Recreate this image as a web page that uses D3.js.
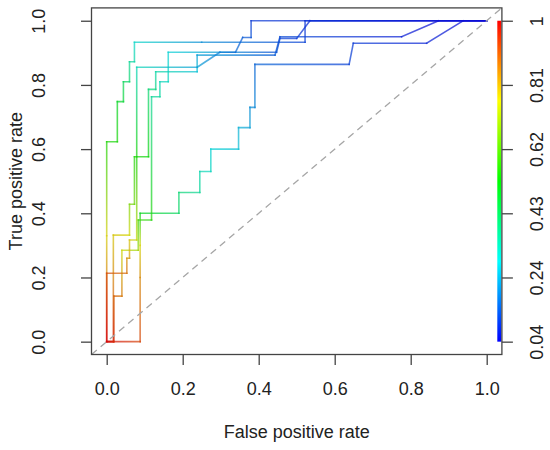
<!DOCTYPE html>
<html>
<head>
<meta charset="utf-8">
<script src="https://cdn.jsdelivr.net/npm/d3@7"></script>
<style>
  body { margin: 0; background: #fff; }
  text { font-family: "Liberation Sans", Arial, sans-serif; fill: #222; }
</style>
</head>
<body>
<div id="chart"></div>
<script>
// ROC curves per fold: false positive rate, true positive rate, cutoff at each vertex
const fold1Fpr = [0, 0, 0, 0.028, 0.028, 0.044, 0.044, 0.06, 0.06, 0.073, 0.073, 0.25, 0.522, 0.522, 1];
const fold1Tpr = [0, 0.33, 0.623, 0.623, 0.748, 0.748, 0.81, 0.81, 0.872, 0.872, 0.933, 0.933, 0.933, 1, 1];
const fold1Cut = [1, 0.77, 0.55, 0.54, 0.49, 0.47, 0.43, 0.41, 0.36, 0.34, 0.3, 0.2, 0.11, 0.09, 0.045];

const fold2Fpr = [0, 0.088, 0.088, 0.088, 0.088, 0.19, 0.19, 0.245, 0.245, 0.274, 0.274, 0.347, 0.347, 0.377, 0.377, 0.39, 0.39, 0.638, 0.649, 0.842, 0.938, 1];
const fold2Tpr = [0, 0, 0.2, 0.3, 0.4, 0.4, 0.465, 0.465, 0.53, 0.53, 0.6, 0.6, 0.667, 0.667, 0.73, 0.73, 0.864, 0.864, 0.93, 0.93, 1, 1];
const fold2Cut = [1, 0.93, 0.85, 0.76, 0.5, 0.42, 0.4, 0.36, 0.33, 0.31, 0.28, 0.26, 0.24, 0.22, 0.2, 0.19, 0.15, 0.11, 0.1, 0.075, 0.05, 0.045];

const fold3Fpr = [0, 0.019, 0.019, 0.04, 0.04, 0.083, 0.083, 0.118, 0.118, 0.14, 0.14, 0.162, 0.162, 0.447, 0.456, 0.5, 0.535, 1];
const fold3Tpr = [0, 0, 0.142, 0.142, 0.285, 0.285, 0.379, 0.379, 0.763, 0.763, 0.81, 0.81, 0.902, 0.902, 0.945, 0.945, 1, 1];
const fold3Cut = [1, 0.95, 0.9, 0.87, 0.75, 0.7, 0.58, 0.55, 0.36, 0.35, 0.32, 0.31, 0.28, 0.13, 0.11, 0.1, 0.08, 0.045];

const fold4Fpr = [0, 0.0175, 0.0175, 0.06, 0.06, 0.073, 0.073, 0.11, 0.11, 0.129, 0.129, 0.238, 0.238, 0.443, 0.456, 0.776, 0.873, 1];
const fold4Tpr = [0, 0, 0.332, 0.332, 0.428, 0.428, 0.576, 0.576, 0.786, 0.786, 0.841, 0.841, 0.893, 0.893, 0.95, 0.95, 1, 1];
const fold4Cut = [1, 0.97, 0.78, 0.76, 0.66, 0.64, 0.55, 0.52, 0.4, 0.38, 0.34, 0.26, 0.22, 0.14, 0.12, 0.07, 0.05, 0.045];

const fold5Fpr = [0, 0, 0.053, 0.053, 0.06, 0.06, 0.079, 0.079, 0.079, 0.238, 0.298, 0.339, 0.358, 0.38, 0.38, 1];
const fold5Tpr = [0, 0.213, 0.213, 0.26, 0.26, 0.317, 0.317, 0.576, 0.855, 0.855, 0.902, 0.902, 0.948, 0.948, 1, 1];
const fold5Cut = [1, 0.92, 0.88, 0.84, 0.83, 0.78, 0.74, 0.54, 0.32, 0.22, 0.18, 0.16, 0.14, 0.13, 0.1, 0.045];

const axisTicks = [0, 0.2, 0.4, 0.6, 0.8, 1];
const cutTicks = [0.045, 0.236, 0.427, 0.618, 0.809, 1];
const cutLabels = ["0.04", "0.24", "0.43", "0.62", "0.81", "1"];

const folds = [
  { fpr: fold1Fpr, tpr: fold1Tpr, cut: fold1Cut },
  { fpr: fold2Fpr, tpr: fold2Tpr, cut: fold2Cut },
  { fpr: fold3Fpr, tpr: fold3Tpr, cut: fold3Cut },
  { fpr: fold4Fpr, tpr: fold4Tpr, cut: fold4Cut },
  { fpr: fold5Fpr, tpr: fold5Tpr, cut: fold5Cut }
];

const width = 550;
const height = 450;
const pLeft = 91.5, pRight = 501.9, pTop = 7.9, pBottom = 354.5;

const svg = d3.select("#chart")
  .append("svg")
  .attr("width", width)
  .attr("height", height);

const x = d3.scaleLinear().domain([-0.04, 1.04]).range([pLeft, pRight]);
const y = d3.scaleLinear().domain([-0.04, 1.04]).range([pBottom, pTop]);

const cutMin = d3.min(cutTicks), cutMax = d3.max(cutTicks);
const hue = d3.scaleLinear().domain([cutMin, cutMax]).range([240, 0]);
const color = c => d3.hsl(hue(c), 1, 0.5).toString();
const lineColor = c => d3.hsl(hue(c), 0.9, 0.44).toString();

const defs = svg.append("defs");
defs.append("clipPath").attr("id", "plotclip")
  .append("rect")
  .attr("x", pLeft).attr("y", pTop)
  .attr("width", pRight - pLeft).attr("height", pBottom - pTop);

// curves, each segment shaded from one cutoff colour to the next
const curves = svg.append("g").attr("clip-path", "url(#plotclip)");
folds.forEach((f, k) => {
  for (let i = 0; i < f.fpr.length - 1; i++) {
    const x1 = x(f.fpr[i]), y1 = y(f.tpr[i]);
    const x2 = x(f.fpr[i + 1]), y2 = y(f.tpr[i + 1]);
    const id = `seg${k}_${i}`;
    const grad = defs.append("linearGradient")
      .attr("id", id)
      .attr("gradientUnits", "userSpaceOnUse")
      .attr("x1", x1).attr("y1", y1)
      .attr("x2", x2).attr("y2", y2);
    grad.append("stop").attr("offset", 0).attr("stop-color", lineColor(f.cut[i]));
    grad.append("stop").attr("offset", 1).attr("stop-color", lineColor(f.cut[i + 1]));
    curves.append("line")
      .attr("x1", x1).attr("y1", y1)
      .attr("x2", x2).attr("y2", y2)
      .attr("stroke", `url(#${id})`)
      .attr("stroke-width", 1.6)
      .attr("stroke-opacity", 0.72)
      .attr("stroke-linecap", "square");
  }
});

// chance line
curves.append("line")
  .attr("x1", x(-0.04)).attr("y1", y(-0.04))
  .attr("x2", x(1.04)).attr("y2", y(1.04))
  .attr("stroke", "#a6a6a6")
  .attr("stroke-width", 1.3)
  .attr("stroke-dasharray", "7,5");

// colour bar
const cb = d3.scaleLinear().domain([cutMin, cutMax]).range([y(0), y(1)]);
const cbGrad = defs.append("linearGradient")
  .attr("id", "cbgrad")
  .attr("x1", 0).attr("y1", 1).attr("x2", 0).attr("y2", 0);
d3.range(0, 1.0001, 0.125).forEach(t => {
  cbGrad.append("stop").attr("offset", t)
    .attr("stop-color", color(cutMin + t * (cutMax - cutMin)));
});
svg.append("rect")
  .attr("x", pRight - 4.6).attr("y", cb(cutMax))
  .attr("width", 4).attr("height", cb(cutMin) - cb(cutMax))
  .attr("fill", "url(#cbgrad)");

// box
svg.append("rect")
  .attr("x", pLeft).attr("y", pTop)
  .attr("width", pRight - pLeft).attr("height", pBottom - pTop)
  .attr("fill", "none")
  .attr("stroke", "#444")
  .attr("stroke-width", 1.3);

function styleAxis(g) {
  g.select(".domain").remove();
  g.selectAll(".tick line").attr("stroke", "#444").attr("stroke-width", 1.3);
  g.selectAll(".tick text").attr("font-size", 18).attr("fill", "#222")
    .style("font-family", "'Liberation Sans', Arial, sans-serif");
}

const xAxis = svg.append("g")
  .attr("transform", `translate(0,${pBottom})`)
  .call(d3.axisBottom(x).tickValues(axisTicks).tickSize(10.5).tickFormat(d3.format(".1f")))
  .call(styleAxis);
xAxis.selectAll(".tick text").attr("y", 40).attr("dy", 0);

const yAxis = svg.append("g")
  .attr("transform", `translate(${pLeft},0)`)
  .call(d3.axisLeft(y).tickValues(axisTicks).tickSize(10.5).tickFormat(d3.format(".1f")))
  .call(styleAxis);
yAxis.selectAll(".tick text")
  .attr("transform", "rotate(-90)")
  .attr("x", 0).attr("y", -46.5).attr("dy", 0)
  .attr("text-anchor", "middle");

const cAxis = svg.append("g")
  .attr("transform", `translate(${pRight},0)`)
  .call(d3.axisRight(cb).tickValues(cutTicks).tickSize(11)
    .tickFormat((d, i) => cutLabels[i]))
  .call(styleAxis);
cAxis.selectAll(".tick text")
  .attr("transform", "rotate(-90)")
  .attr("x", 0).attr("y", 41.5).attr("dy", 0)
  .attr("text-anchor", "middle");

// axis titles
svg.append("text")
  .attr("x", (pLeft + pRight) / 2).attr("y", 437.7)
  .attr("text-anchor", "middle")
  .attr("font-size", 18)
  .text("False positive rate");

svg.append("text")
  .attr("transform", `translate(22,${(pTop + pBottom) / 2}) rotate(-90)`)
  .attr("text-anchor", "middle")
  .attr("font-size", 18)
  .text("True positive rate");
</script>
</body>
</html>
